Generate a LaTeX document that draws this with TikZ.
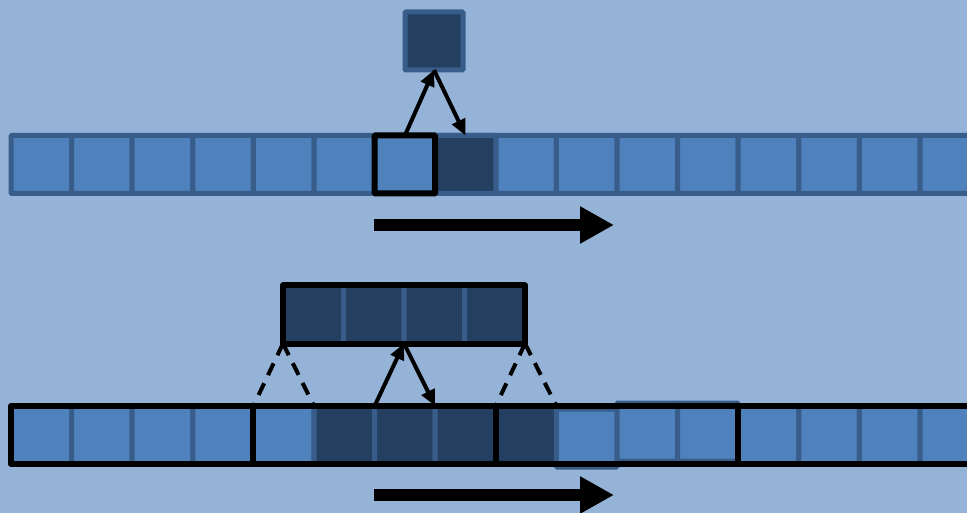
\documentclass[tikz,border=0pt]{standalone}
\usetikzlibrary{arrows.meta}
\definecolor{bgc}{HTML}{95B3D7}
\definecolor{cellc}{HTML}{4F81BD}
\definecolor{cellb}{HTML}{385D8A}
\definecolor{darkc}{HTML}{243F60}
\tikzset{
  cell/.style={rectangle,draw=cellb,fill=cellc,line width=5pt,minimum width=60.6pt,minimum height=58pt,inner sep=0pt,outer sep=0pt,rounded corners=1pt},
  dcell/.style={cell,fill=darkc},
  grp/.style={draw=black,line width=6pt,line join=round},
  thin/.style={draw=black,line width=4pt,-{Triangle[length=16pt,width=14pt]}},
  dashes/.style={draw=black,line width=4pt,dash pattern=on 13pt off 9pt},
  bigarrow/.style={draw=black,line width=12pt,-{Triangle[length=34pt,width=35pt]}}
}
\begin{document}
\begin{tikzpicture}[x=1pt,y=-1pt]
\fill[bgc] (0,0) rectangle (967,513);
\useasboundingbox (0,0) rectangle (967,513);
\begin{scope}
\clip (0,0) rectangle (967,513);
% top row
\foreach \i in {1,...,16} {
  \node[cell] (t\i) at ({11+60.6*(\i-0.5)},164.5) {};
}
\node[dcell] (t8b) at (t8) {};
\node[cell,draw=black,line width=6pt] (t7b) at (t7) {};
% top square
\node[dcell,minimum width=58pt,minimum height=58pt] (sq) at (434,41) {};
% bottom row
\foreach \i in {1,...,16} {
  \node[cell] (b\i) at ({11+60.6*(\i-0.5)},435) {};
}
\foreach \i in {6,7,8,9} {
  \node[dcell] (d\i) at (b\i) {};
}
\node[cell] (b10s) at ([yshift=-3pt]b10) {};
\node[cell] (b11s) at ([yshift=3pt]b11) {};
\node[cell] (b12s) at ([yshift=3pt]b12) {};
\draw[grp] (b1.north west) rectangle (b4.south east);
\draw[grp] (b5.north west) rectangle (b8.south east);
\draw[grp] (b9.north west) rectangle (b12.south east);
\draw[grp] (b13.north west) rectangle (b16.south east);
% upper box
\foreach \i in {1,2,3,4} {
  \node[dcell,minimum width=60.5pt] (u\i) at ({283+60.5*(\i-0.5)},314.5) {};
}
\draw[grp] (u1.north west) rectangle (u4.south east);
% connectors
\draw[thin] (t7.north) -- (sq.south);
\draw[thin] (sq.south) -- (t8.north);
\draw[thin] (b7.north west) -- (u2.south east);
\draw[thin] (u2.south east) -- (b8.north west);
\draw[dashes] (u1.south west) -- (b5.north west);
\draw[dashes] (u1.south west) -- (b6.north west);
\draw[dashes] (u4.south east) -- (b9.north west);
\draw[dashes] (u4.south east) -- (b10.north west);
% big arrows
\coordinate (a1s) at (374,225);
\coordinate (a1e) at (614,225);
\coordinate (a2s) at (374,495);
\coordinate (a2e) at (614,495);
\draw[bigarrow] (a1s) -- (a1e);
\draw[bigarrow] (a2s) -- (a2e);
\end{scope}
\end{tikzpicture}
\end{document}
